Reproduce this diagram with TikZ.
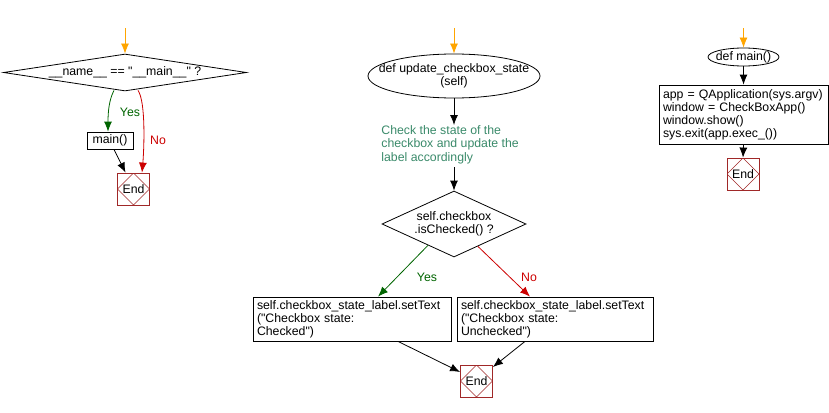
\documentclass[tikz,border=0pt]{standalone}
\usepackage{fontspec}
\setmainfont{Liberation Sans}[Ligatures=TeXOff]
\usetikzlibrary{shapes.geometric,arrows.meta,calc}
\definecolor{orangearr}{RGB}{255,165,0}
\definecolor{yesgreen}{RGB}{0,100,0}
\definecolor{nored}{RGB}{204,0,0}
\definecolor{endred}{RGB}{160,40,40}
\definecolor{notegreen}{RGB}{58,138,106}
\tikzset{
  every node/.style={font=\fontsize{12.3}{13}\selectfont, inner sep=0pt},
  flow/.style={draw=black, -{Latex[length=10pt,width=8pt]}},
  startarr/.style={draw=orangearr, -{Latex[length=10pt,width=8pt]}},
  yesarr/.style={draw=yesgreen, -{Latex[length=10pt,width=8pt]}},
  noarr/.style={draw=nored, -{Latex[length=10pt,width=8pt]}},
  decision/.style={draw, diamond},
  procbox/.style={draw, rectangle, align=left, inner xsep=4pt},
  endbox/.style={draw=endred, rectangle, minimum width=32pt, minimum height=32pt,
    path picture={\draw[endred, line width=0.5pt]
      (path picture bounding box.north) -- (path picture bounding box.east) --
      (path picture bounding box.south) -- (path picture bounding box.west) -- cycle;}},
  yeslbl/.style={text=yesgreen},
  nolbl/.style={text=nored},
}
\begin{document}
\begin{tikzpicture}[x=1pt,y=-1pt,line width=0.8pt]
\useasboundingbox (0,0) rectangle (829,412);

% ---------- left flow ----------
\coordinate (s1) at (125,28);
\node[decision, shape aspect=6.5, minimum width=243pt, minimum height=37pt] (d1) at (125,72.5) {\_\_name\_\_ == "\_\_main\_\_" ?};
\node[draw, rectangle, minimum width=46pt, minimum height=17pt] (m) at (110,140.5) {main()};
\node[endbox] (end1) at (133.5,189) {End};
\node[yeslbl] (y1) at (130,112) {Yes};
\node[nolbl] (n1) at (158,140) {No};
\draw[startarr] (s1) -- (d1.north);
\draw[yesarr] ($(d1.south)+(-11,-1)$) .. controls (109,100) and (108,112) .. ($(m.north)+(-2,0)$);
\draw[noarr] ($(d1.south)+(13,-1)$) .. controls (146,102) and (144,150) .. ($(end1.north)+(8.5,0)$);
\draw[flow] ($(m.south)+(4,0)$) -- ($(end1.north)+(-8,0)$);

% ---------- middle flow ----------
\coordinate (s2) at (454,28);
\node[draw, ellipse, minimum width=172pt, minimum height=44pt] (e1) at (454,76) {};
\node[align=center] (e1t) at (e1.center) {def update\_checkbox\_state\\(self)};
\node[text=notegreen, align=left, anchor=north west, font=\fontsize{12.3}{13.5}\selectfont] (c1) at (381,125) {Check the state of the\\checkbox and update the\\label accordingly};
\node[decision, shape aspect=2.2, minimum width=144pt, minimum height=66pt, align=center] (d2) at (454,224) {self.checkbox\\.isChecked() ?};
\node[procbox, text width=190pt, minimum height=44pt] (b1) at (352,319) {self.checkbox\_state\_label.setText\\("Checkbox state:\\Checked")};
\node[procbox, text width=188pt, minimum height=44pt] (b2) at (555,319) {self.checkbox\_state\_label.setText\\("Checkbox state:\\Unchecked")};
\node[endbox] (end2) at (476.5,381) {End};
\node[yeslbl] (y2) at (427,277) {Yes};
\node[nolbl] (n2) at (529,277) {No};
\draw[startarr] (s2) -- (e1.north);
\draw[flow] (e1.south) -- (e1.south |- c1.north);
\draw[flow] ($(e1.south |- c1.south)+(0,3)$) -- (d2.north);
\draw[yesarr] ($(d2.west)!0.64!(d2.south)$) -- ($(b1.north)+(26,0)$);
\draw[noarr] ($(d2.south)!0.33!(d2.east)$) -- ($(b2.north)+(-25,0)$);
\draw[flow] ($(b1.south)+(46,0)$) -- ($(end2.west)+(0,-9)$);
\draw[flow] ($(b2.south)+(-30,0)$) -- ($(end2.east)+(0,-14)$);

% ---------- right flow ----------
\coordinate (s3) at (743.5,28);
\node[draw, ellipse, minimum width=71pt, minimum height=18pt] (e3) at (743.5,57) {};
\node (e3t) at (e3.center) {def main()};
\node[procbox, text width=161pt, minimum height=59pt] (b3) at (743.5,114.5) {app = QApplication(sys.argv)\\window = CheckBoxApp()\\window.show()\\sys.exit(app.exec\_())};
\node[endbox] (end3) at (743,174) {End};
\draw[startarr] (s3) -- (e3.north);
\draw[flow] (e3.south) -- (b3.north);
\draw[flow] (b3.south) -- (end3.north);
\end{tikzpicture}
\end{document}
